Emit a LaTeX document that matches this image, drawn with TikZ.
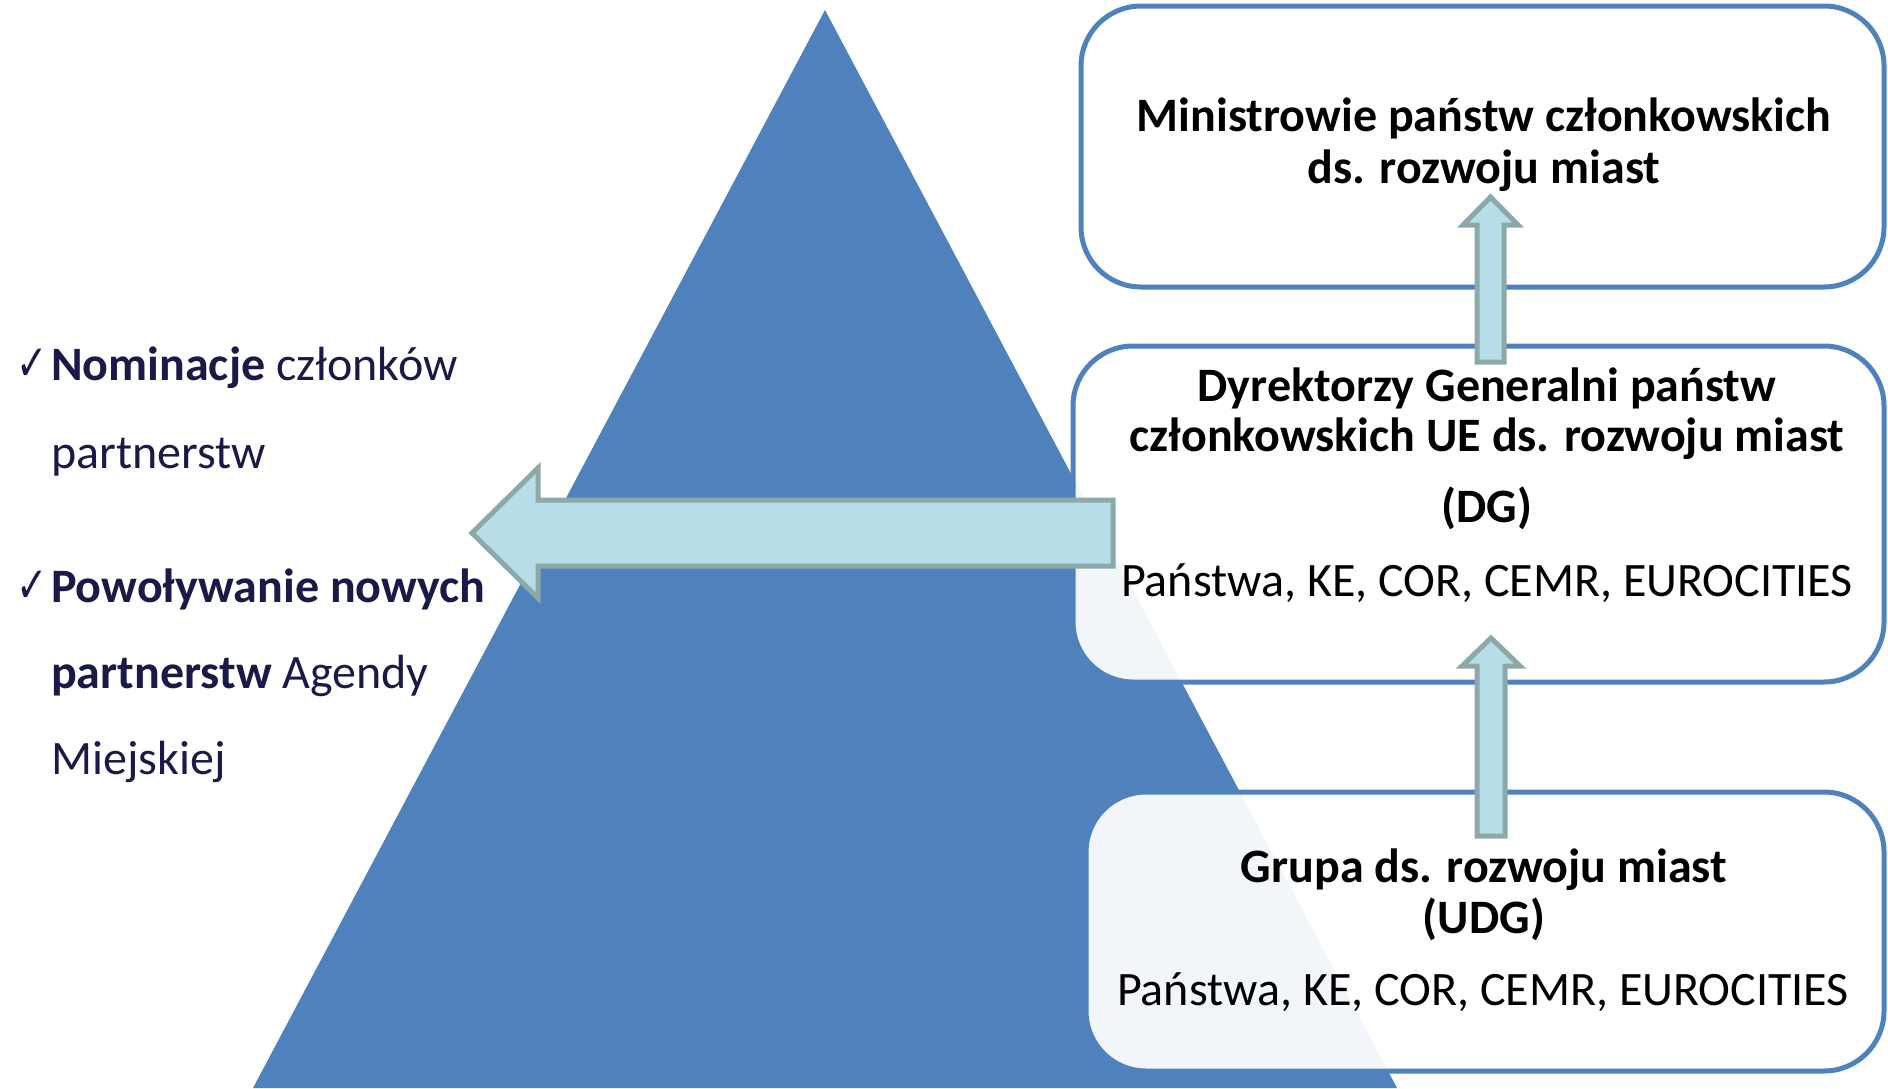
\documentclass[tikz,border=0pt]{standalone}
\usepackage{graphicx}
\usepackage{fontspec}
\setmainfont{Carlito}
\newfontfamily\symfont{DejaVu Sans}
\definecolor{triblue}{RGB}{79,129,189}
\definecolor{boxline}{RGB}{79,129,189}
\definecolor{arrfill}{RGB}{183,222,232}
\definecolor{arrline}{RGB}{140,168,168}
\definecolor{navy}{RGB}{26,26,72}
\tikzset{
  box/.style={draw=boxline, line width=5pt, rounded corners=60pt, fill=white, fill opacity=0.93, text opacity=1, inner sep=0pt},
  blockarrow/.style={fill=arrfill, draw=arrline, line width=5pt, line join=miter},
  boxtxt/.style={font=\fontsize{48}{56}\selectfont\bfseries, anchor=mid, inner sep=0pt},
  boxsub/.style={font=\fontsize{48}{56}\selectfont, anchor=mid, inner sep=0pt},
  lefttxt/.style={font=\fontsize{48}{56}\selectfont, text=navy, anchor=mid west, inner sep=0pt},
  checkmk/.style={font=\symfont\fontsize{50}{56}\selectfont, text=navy, anchor=base west, inner sep=0pt}
}
\begin{document}
\begin{tikzpicture}[x=1pt,y=-1pt]
\useasboundingbox (0,0) rectangle (1888,1088);
\begin{scope}
\clip (0,0) rectangle (1888,1088);
\fill[triblue] (825,10) -- (253,1088) -- (1397,1088) -- cycle;
\end{scope}
% boxes
\node[box, minimum width=803pt, minimum height=281pt] (top) at (1482.5,146.5) {};
\node[box, minimum width=811pt, minimum height=336pt] (mid) at (1478.5,514) {};
\node[box, minimum width=798pt, minimum height=279pt] (bot) at (1485,931.5) {};
% box texts
\node[boxtxt] (t1) at (1484,129) {Ministrowie państw członkowskich};
\node[boxtxt] (t2) at (1484,181) {ds. rozwoju miast};
\node[boxtxt] (m1) at (1487,399) {Dyrektorzy Generalni państw};
\node[boxtxt] (m2) at (1487,449) {członkowskich UE ds. rozwoju miast};
\node[boxtxt] (m3) at (1487,520) {(DG)};
\node[boxsub] (m4) at (1487,594) {Państwa, KE, COR, CEMR, EUROCITIES};
\node[boxtxt] (b1) at (1484,880) {Grupa ds. rozwoju miast};
\node[boxtxt] (b2) at (1484,931) {(UDG)};
\node[boxsub] (b3) at (1483,1003) {Państwa, KE, COR, CEMR, EUROCITIES};
% arrows
\draw[blockarrow] (1113,500) -- (538,500) -- (538,468) -- (472,533) -- (538,598) -- (538,566) -- (1113,566) -- cycle;
\draw[blockarrow] (1477,362) -- (1477,225) -- (1463,225) -- (1490.5,197) -- (1518,225) -- (1504,225) -- (1504,362) -- cycle;
\draw[blockarrow] (1477,836) -- (1477,666) -- (1462,666) -- (1491,638) -- (1520,666) -- (1505,666) -- (1505,836) -- cycle;
% left texts
\coordinate (cx) at (16,0);
\node[lefttxt] (l1) at (51,378) {\textbf{Nominacje} członków};
\node[lefttxt] (l2) at (51,466) {partnerstw};
\node[lefttxt] (l3) at (51,600) {\textbf{Powoływanie nowych}};
\node[lefttxt] (l4) at (51,686) {\textbf{partnerstw} Agendy};
\node[lefttxt] (l5) at (51,772) {Miejskiej};
\node[checkmk] (c1) at (l1.base west -| cx) {\scalebox{0.75}[1]{✓}};
\node[checkmk] (c2) at (l3.base west -| cx) {\scalebox{0.75}[1]{✓}};
\end{tikzpicture}
\end{document}
